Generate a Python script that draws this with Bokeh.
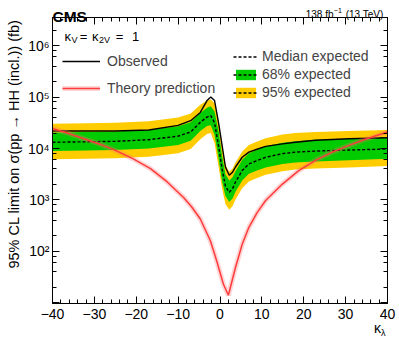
import math
from bokeh.plotting import figure
from bokeh.models import (Range1d, LinearAxis, LogAxis, Label, Legend, LegendItem,
                          CustomJSTickFormatter, LogTicker, SingleIntervalTicker,
                          ColumnDataSource)
from bokeh.core.validation import silence
from bokeh.core.validation.warnings import MISSING_RENDERERS
from bokeh.embed import file_html
from bokeh.resources import INLINE

silence(MISSING_RENDERERS, True)

# ---------------- data ----------------
kappa_lambda = [-40, -32, -25, -17, -10, -7, -4.7, -3.1, -2.2, -1.3, -0.3, 0.5, 1.3,
                2.2, 3.0, 3.7, 5.3, 6.9, 9, 10.9, 14.9, 18, 22.8, 30.8, 40]
observed = [21900, 21900, 21900, 22900, 28200, 34700, 50100, 85100, 100000, 85100,
            30200, 11500, 4370, 3020, 3470, 4370, 6760, 8510, 9770, 11000, 12300,
            13200, 14500, 15500, 16200]
expected = [13200, 13500, 13800, 14800, 17400, 20900, 32400, 40700, 43600, 31600,
            10700, 3980, 1860, 1410, 1660, 2240, 3720, 5010, 5890, 6760, 7940,
            8510, 8910, 9330, 9770]
exp68_hi = [20400, 20900, 21400, 22900, 26900, 32400, 49000, 61700, 66100, 52500,
            20900, 7240, 3160, 2400, 2750, 3630, 6030, 8130, 9550, 11000, 12900,
            13800, 14800, 15500, 16600]
exp68_lo = [8910, 9120, 9330, 10000, 11700, 14100, 21900, 27500, 28200, 18200,
            6030, 2290, 1200, 912, 1070, 1450, 2400, 3240, 3800, 4270, 5010,
            5370, 5620, 5890, 6310]
exp95_hi = [30200, 30900, 31600, 33900, 39800, 47900, 70800, 85100, 89100, 75900,
            31600, 11200, 4790, 3550, 4070, 5370, 8710, 11700, 13800, 15800, 18600,
            20000, 20900, 21900, 22900]
exp95_lo = [6170, 6310, 6460, 6920, 8130, 9770, 15100, 19100, 20000, 12600,
            4170, 1660, 832, 646, 759, 1020, 1700, 2290, 2690, 3090, 3630,
            3890, 4070, 4270, 4570]

theory_kappa = [-40, -36.5, -32.5, -28.5, -24.6, -20.6, -16.6, -12.6, -8.7, -6.7, -4.7,
                -2.3, -0.8, 0.8, 2.0, 3.7, 5.3, 6.9, 8.9, 10.9, 14.9, 18.8, 22.8,
                26.8, 30.8, 34.7, 40]
theory_xs = [24500, 20000, 15500, 12000, 8900, 6200, 4070, 2240, 1120, 724, 427,
             162, 66, 23.4, 14.1, 49, 138, 295, 575, 977, 2040, 3720, 5890,
             8510, 11500, 15100, 20900]

x_ticks_interval = 10
FONT = "Liberation Sans"
W, H = 399, 338

# ---------------- main figure ----------------
p = figure(width=W, height=H, y_axis_type="log",
           x_range=Range1d(-40, 40), y_range=Range1d(10 ** 0.99, 10 ** 6.544),
           output_backend="svg", toolbar_location=None,
           min_border_left=52, min_border_right=12, min_border_top=17, min_border_bottom=35)
p.grid.visible = False
p.outline_line_color = "black"
p.background_fill_color = "white"
p.border_fill_color = "white"

src = ColumnDataSource(dict(kl=kappa_lambda, obs=observed, exp=expected,
                            lo68=exp68_lo, hi68=exp68_hi, lo95=exp95_lo, hi95=exp95_hi))
tsrc = ColumnDataSource(dict(kl=theory_kappa, xs=theory_xs))

r95 = p.varea(x="kl", y1="lo95", y2="hi95", source=src, fill_color="#ffcc00")
r68 = p.varea(x="kl", y1="lo68", y2="hi68", source=src, fill_color="#00cc00")
rexp = p.line("kl", "exp", source=src, line_color="black", line_width=1.4, line_dash="3 2")
robs = p.line("kl", "obs", source=src, line_color="black", line_width=1.4)
rthb = p.line("kl", "xs", source=tsrc, line_color="#ff7070", line_width=5, line_alpha=0.3)
rth = p.line("kl", "xs", source=tsrc, line_color="#ff3c3c", line_width=1.5)

def style(ax, labels=True):
    ax.axis_line_color = "black"
    ax.axis_line_width = 1
    ax.major_tick_in = 7
    ax.major_tick_out = 0
    ax.minor_tick_in = 4
    ax.minor_tick_out = 0
    ax.major_tick_line_color = "black"
    ax.minor_tick_line_color = "black"
    ax.major_label_text_font = FONT
    ax.major_label_text_font_size = "14px"
    ax.major_label_text_color = "black"
    if not labels:
        ax.formatter = CustomJSTickFormatter(code="return '';")
        ax.major_label_text_font_size = "2px"
        ax.major_label_standoff = 0

xa = p.xaxis[0]
xa.ticker = SingleIntervalTicker(interval=x_ticks_interval, num_minor_ticks=5)
xa.formatter = CustomJSTickFormatter(
    code="return tick < 0 ? '\\u2212' + Math.abs(tick) : String(tick);")
style(xa)
xa.major_label_standoff = 5

ya = p.yaxis[0]
ya.ticker = LogTicker()
ya.formatter = CustomJSTickFormatter(code="""
const e = Math.round(Math.log10(tick));
if (e < 2) { return ""; }
const sup = ["\\u2070","\\u00b9","\\u00b2","\\u00b3","\\u2074","\\u2075","\\u2076","\\u2077","\\u2078","\\u2079"];
return "10" + String(e).split("").map(c => sup[parseInt(c)]).join("");
""")
style(ya)
ya.major_label_standoff = 3

top = LinearAxis(ticker=SingleIntervalTicker(interval=x_ticks_interval, num_minor_ticks=5))
style(top, labels=False)
p.add_layout(top, "above")
right = LogAxis(ticker=LogTicker())
style(right, labels=False)
p.add_layout(right, "right")

# ---------------- legends ----------------
FB = 303
leg1 = Legend(items=[LegendItem(label="Observed", renderers=[robs]),
                     LegendItem(label="Theory prediction", renderers=[rthb, rth])],
              location=(10, FB - 98), orientation="vertical",
              glyph_width=38, glyph_height=20, label_height=20, spacing=7,
              label_standoff=7, padding=0, margin=0,
              label_text_font=FONT, label_text_font_size="14px",
              background_fill_alpha=0, border_line_alpha=0)
leg2 = Legend(items=[LegendItem(label="Median expected", renderers=[rexp]),
                     LegendItem(label="68% expected", renderers=[r68, rexp]),
                     LegendItem(label="95% expected", renderers=[r95, rexp])],
              location=(181, FB - 100), orientation="vertical",
              glyph_width=25, glyph_height=13, label_height=13, spacing=2,
              label_standoff=4, padding=0, margin=0,
              label_text_font=FONT, label_text_font_size="14px",
              background_fill_alpha=0, border_line_alpha=0)
p.add_layout(leg1)
p.add_layout(leg2)

# ---------------- transparent text layer over the whole canvas ----------------
t = figure(width=W, height=H, x_range=Range1d(0, W), y_range=Range1d(0, H),
           output_backend="svg", toolbar_location=None,
           x_axis_location=None, y_axis_location=None, min_border=0,
           outline_line_color=None, background_fill_color=None, border_fill_color=None,
           styles={"position": "absolute", "left": "0px", "top": "0px"})
t.grid.visible = False

def lab(text, px, py, size, align="left", baseline="alphabetic", bold=False, angle=0.0):
    t.add_layout(Label(x=px, y=H - py, x_units="screen", y_units="screen",
                       text=text, text_font=FONT, text_font_size=f"{size}px",
                       text_align=align, text_baseline=baseline,
                       text_font_style="bold" if bold else "normal",
                       text_color="black", angle=angle))

lab("CMS", 52, 15.5, 15.5, bold=True)
lab("138 fb", 333, 14, 10, align="right")
lab("\u22121", 333.3, 10, 7)
lab("(13 TeV)", 383, 14, 10, align="right")

lab("\u03ba", 64, 36.3, 13)
lab("V", 71, 39, 9)
lab("=", 79.3, 36.3, 13)
lab("\u03ba", 91.5, 36.3, 13)
lab("2V", 98.5, 39, 9)
lab("=", 115.3, 36.3, 13)
lab("1", 131.5, 36.3, 13)

lab("95% CL limit on  \u03c3(pp \u2192 HH (incl.)) (fb)", 13, 15, 14.5,
    align="right", baseline="middle", angle=math.pi / 2)
lab("\u03ba", 380.5, 327.5, 14, align="right")
lab("\u03bb", 380.5, 332, 9)

with open("out.html", "w", encoding="utf-8") as f:
    f.write(file_html([p, t], INLINE))
